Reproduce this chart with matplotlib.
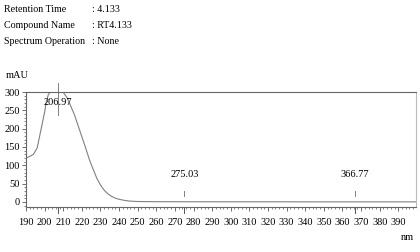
import matplotlib
matplotlib.use("Agg")
import matplotlib.pyplot as plt
from matplotlib.ticker import MultipleLocator

plt.rcParams['font.family'] = ['Liberation Serif', 'DejaVu Serif']

# spectrum (nm, mAU)
wl = [190, 192, 194, 196, 198, 200, 201, 202, 203, 205, 207, 209, 210, 212, 214,
      216, 218, 220, 222, 224, 226, 228, 230, 232, 234, 236, 238, 240, 243, 246,
      250, 260, 280, 300, 350, 400]
mau = [120, 124, 130, 147, 196, 245, 275, 293, 300, 303, 304, 302, 299, 285, 262,
       238, 208, 178, 148, 116, 90, 65, 46, 32, 22, 15, 10, 7, 4, 2,
       1, 0.5, 0.3, 0.2, 0.1, 0.1]

peaks = [206.97, 275.03, 366.77]
peak_labels = ['206.97', '275.03', '366.77']

header_keys = ['Retention Time', 'Compound Name', 'Spectrum Operation']
header_vals = [': 4.133', ': RT4.133', ': None']

fig = plt.figure(figsize=(4.2, 2.52), dpi=100)
ax = fig.add_axes([26/420, 1-207/252, 390/420, 115/252])

ax.plot(wl, mau, color='#808080', lw=0.8)
ax.set_xlim(190, 399.5)
ax.set_ylim(-14, 300)

# peak markers
ax.plot([peaks[0], peaks[0]], [238, 325], color='#808080', lw=0.7, clip_on=False)
ax.text(peaks[0], 272, peak_labels[0], ha='center', va='center', fontsize=7.5)
for p, lab in zip(peaks[1:], peak_labels[1:]):
    ax.plot([p, p], [17, 30], color='#808080', lw=0.7)
    ax.text(p, 74, lab, ha='center', va='center', fontsize=7.5)
for p in peaks:
    ax.plot([p, p], [-14, -30], color='#555555', lw=0.7, clip_on=False)

ax.xaxis.set_major_locator(MultipleLocator(10))
ax.xaxis.set_minor_locator(MultipleLocator(2))
ax.yaxis.set_major_locator(MultipleLocator(50))
ax.yaxis.set_minor_locator(MultipleLocator(10))
ax.set_xticks(range(190, 400, 10))
ax.tick_params(axis='both', which='major', length=3, width=0.6, color='#555555',
               labelsize=7.5, pad=1.5)
ax.tick_params(axis='both', which='minor', length=1.5, width=0.5, color='#555555')
ax.tick_params(axis='x', pad=5)

for s in ['left', 'bottom', 'top']:
    ax.spines[s].set_color('#666666')
    ax.spines[s].set_linewidth(0.8)
ax.spines['right'].set_color('#bbbbbb')
ax.spines['right'].set_linewidth(0.8)

fig.text(6/420, 1-75/252, 'mAU', fontsize=7.5, va='center', ha='left')
fig.text(407/420, 1-238/252, 'nm', fontsize=7.5, va='center', ha='center')

ys = [10, 25, 41]
for k, v, y in zip(header_keys, header_vals, ys):
    fig.text(4/420, 1-y/252, k, fontsize=7.2, va='center', ha='left')
    fig.text(92/420, 1-y/252, v, fontsize=7.2, va='center', ha='left')

fig.savefig('out.png', dpi=100)
